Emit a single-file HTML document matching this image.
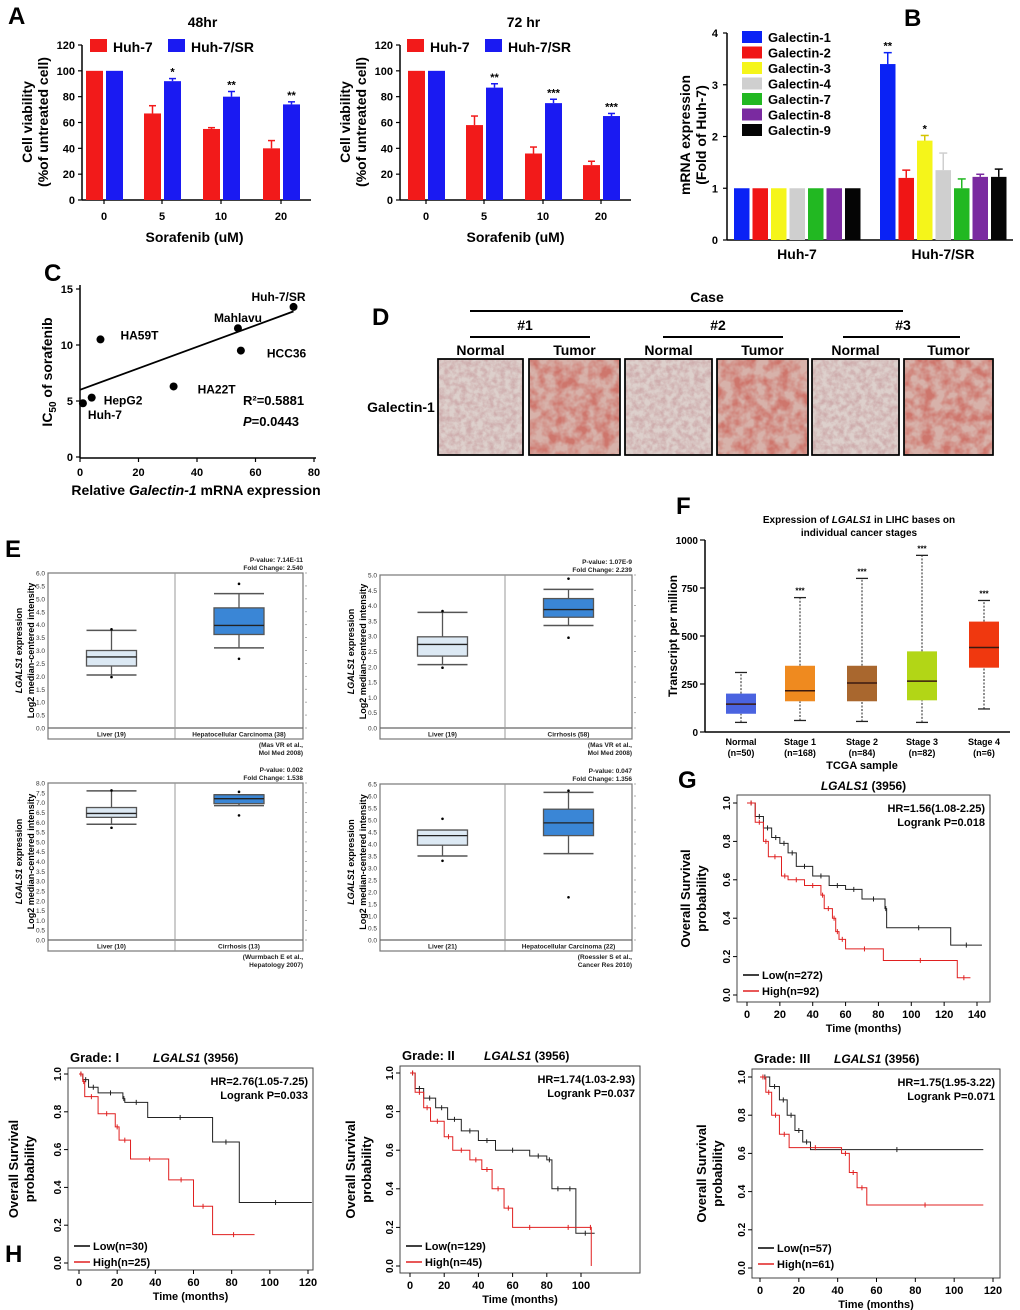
<!DOCTYPE html>
<html><head><meta charset="utf-8"><style>
html,body{margin:0;padding:0;background:#fff;}
svg{display:block;font-family:"Liberation Sans",Arial,sans-serif;}
</style></head><body>
<svg id="fig" xmlns="http://www.w3.org/2000/svg" width="1020" height="1310" viewBox="0 0 1020 1310">
<defs>
<filter id="tissueN" x="0" y="0" width="100%" height="100%"><feTurbulence type="fractalNoise" baseFrequency="0.18" numOctaves="3" seed="3"/><feColorMatrix type="matrix" values="0 0 0 0 0.62  0 0 0 0 0.42  0 0 0 0 0.42  0 0 0 -2.2 1.5"/></filter>
<filter id="tissueT" x="0" y="0" width="100%" height="100%"><feTurbulence type="fractalNoise" baseFrequency="0.09" numOctaves="3" seed="7"/><feColorMatrix type="matrix" values="0 0 0 0 0.62  0 0 0 0 0.18  0 0 0 0 0.15  0 0 0 -2.4 1.6"/></filter>
</defs>
</svg>
<script>
// ---------- DATA ----------
const aCats = ["0","5","10","20"];
const a48Huh7 = [100,67,55,40];
const a48SR = [100,92,80,74];
const a48Err1 = [0,6,1,6];
const a48Err2 = [0,2,4,2];
const a48Stars = ["","*","**","**"];
const a72Huh7 = [100,58,36,27];
const a72SR = [100,87,75,65];
const a72Err1 = [0,7,5,3];
const a72Err2 = [0,3,3,2];
const a72Stars = ["","**","***","***"];
const aTicks = [0,20,40,60,80,100,120];
const bGenes = ["Galectin-1","Galectin-2","Galectin-3","Galectin-4","Galectin-7","Galectin-8","Galectin-9"];
const bColors = ["#0a22f5","#f01515","#f5f51a","#cfcfcf","#22b822","#7a2aa0","#050505"];
const bHuh7 = [1,1,1,1,1,1,1];
const bSR = [3.4,1.2,1.92,1.35,1.0,1.22,1.22];
const bSRerr = [0.22,0.15,0.1,0.33,0.18,0.05,0.15];
const bStars = ["**","","*","","","",""];
const bTicks = [0,1,2,3,4];
const cNames = ["Huh-7","HepG2","HA59T","HA22T","Mahlavu","HCC36","Huh-7/SR"];
const cX = [1,4,7,32,54,55,73];
const cY = [4.8,5.3,10.5,6.3,11.5,9.5,13.4];
const cFit = [[0,6.0],[73,13.0]];
const cXTicks = [0,20,40,60,80];
const cYTicks = [0,5,10,15];
const e1Liver=[2.05,2.4,2.75,3.0,3.78], e1LiverOut=[1.97,3.82];
const e1HCC=[3.1,3.62,3.97,4.65,5.2], e1HCCOut=[2.68,5.58];
const e2Liver=[2.07,2.35,2.73,2.98,3.78], e2LiverOut=[1.97,3.82];
const e2Cir=[3.35,3.62,3.87,4.23,4.53], e2CirOut=[2.95,4.88];
const e3Liver=[5.9,6.25,6.45,6.75,7.6], e3LiverOut=[5.72,7.62];
const e3Cir=[6.85,6.95,7.2,7.4,7.4], e3CirOut=[6.35,7.55];
const e4Liver=[3.5,3.95,4.35,4.58,4.58], e4LiverOut=[3.3,5.05];
const e4HCC=[3.6,4.35,4.88,5.45,6.15], e4HCCOut=[1.78,6.22];
const fCats=["Normal","Stage 1","Stage 2","Stage 3","Stage 4"];
const fN=["(n=50)","(n=168)","(n=84)","(n=82)","(n=6)"];
const fLo=[50,60,55,50,120], fQ1=[95,160,160,165,335], fMed=[145,215,255,265,440], fQ3=[200,345,345,420,575], fHi=[310,700,800,920,685];
const fColors=["#4a63e0","#ef8a1f","#a9672e","#b2d616","#f0380f"];
const fStars=["","***","***","***","***"];
const fTicks=[0,250,500,750,1000];
const gLowT=[0,5,10,15,20,25,30,40,50,60,70,84,85,124,143];
const gLowS=[1,0.93,0.87,0.82,0.79,0.74,0.67,0.62,0.57,0.55,0.5,0.45,0.35,0.26,0.26];
const gHighT=[0,5,10,13,21,25,35,45,47,52,54,56,60,83,128,136];
const gHighS=[1,0.9,0.8,0.72,0.62,0.6,0.57,0.52,0.45,0.4,0.33,0.29,0.24,0.18,0.09,0.09];
const h1LowT=[0,2,5,10,23,24,36,70,84,122];
const h1LowS=[1,0.97,0.93,0.9,0.87,0.85,0.77,0.64,0.32,0.32];
const h1HighT=[0,2,3,10,19,21,27,47,60,70,92];
const h1HighS=[1,0.96,0.88,0.79,0.72,0.65,0.55,0.44,0.3,0.15,0.15];
const h2LowT=[0,3,8,15,22,30,40,50,70,80,83,90,97,108];
const h2LowS=[1,0.92,0.87,0.82,0.76,0.7,0.65,0.6,0.57,0.55,0.4,0.4,0.17,0.17];
const h2HighT=[0,3,8,12,20,25,35,42,48,55,60,80,105,106];
const h2HighS=[1,0.9,0.82,0.75,0.67,0.6,0.55,0.5,0.4,0.3,0.2,0.2,0.2,0.0];
const h3LowT=[0,5,10,14,18,22,26,115];
const h3LowS=[1,0.95,0.88,0.8,0.72,0.66,0.62,0.62];
const h3HighT=[0,3,6,10,15,42,46,50,55,115];
const h3HighS=[1,0.92,0.8,0.7,0.63,0.6,0.5,0.42,0.33,0.33];

// ---------- HELPERS ----------
const svg=document.getElementById('fig');
const NS='http://www.w3.org/2000/svg';
function named(el,name,inter){
  
  
  return el;
}
function mk(tag,attrs,parent){
  const e=document.createElementNS(NS,tag);
  for(const k in attrs){e.setAttribute(k,attrs[k]);}
  (parent||svg).appendChild(e);
  return e;
}
function grp(name){
  const g=mk('g',{});
  named(g,name);
  return g;
}
function txt(p,x,y,s,size,opt){
  opt=opt||{};
  const t=mk('text',{x:x,y:y,'font-size':size,'font-weight':opt.w||'bold','text-anchor':opt.a||'middle',fill:opt.c||'#000'},p);
  if(opt.r){t.setAttribute('transform','rotate(-90 '+x+' '+y+')');}
  if(opt.i){t.setAttribute('font-style','italic');}
  t.textContent=s;
  named(t,opt.n||'label');
  return t;
}
function line(p,x1,y1,x2,y2,c,w,name){
  const l=mk('line',{x1:x1,y1:y1,x2:x2,y2:y2,stroke:c||'#000','stroke-width':w||1},p);
  named(l,name||'line');
  return l;
}
function lin(d0,d1,r0,r1){return v=>r0+(v-d0)*(r1-r0)/(d1-d0);}

// ---------- PANEL LABELS ----------
const pl=grp('panel-labels');
[["A",8,24],["B",904,26],["C",44,281],["D",372,325],["E",5,557],["F",676,514],["G",678,788],["H",5,1262]].forEach(p=>txt(pl,p[1],p[2],p[0],24,{a:'start'}));

// ---------- PANEL A ----------
function barPanel(name,ax,cx,title,h1,h2,e1,e2,stars,legX){
  const g=grp(name);
  const y=lin(0,120,200,45);
  txt(g,cx[0]+ (cx[3]-cx[0])/2+10,27,title,14);
  line(g,ax,45,ax,200,'#000',1.5,'y-axis');
  line(g,ax,200,cx[3]+30,200,'#000',1.5,'x-axis');
  aTicks.forEach(t=>{line(g,ax-4,y(t),ax,y(t),'#000',1.2,'y-tick');txt(g,ax-7,y(t)+4,String(t),11,{a:'end'});});
  aCats.forEach((c,i)=>{
    const yv=y(h1[i]);
    const r=mk('rect',{x:cx[i]-18,y:yv,width:17,height:200-yv,fill:'#f21a1a'},g);
    named(r,'bar-huh7-'+c);
    if(e1[i]) line(g,cx[i]-9.5,yv,cx[i]-9.5,y(h1[i]+e1[i]),'#f21a1a',1.5,'error-bar');
    if(e1[i]) line(g,cx[i]-13,y(h1[i]+e1[i]),cx[i]-6,y(h1[i]+e1[i]),'#f21a1a',1.5,'error-cap');
    const yv2=y(h2[i]);
    const r2=mk('rect',{x:cx[i]+2,y:yv2,width:17,height:200-yv2,fill:'#1a1af2'},g);
    named(r2,'bar-huh7sr-'+c);
    if(e2[i]) line(g,cx[i]+10.5,yv2,cx[i]+10.5,y(h2[i]+e2[i]),'#1a1af2',1.5,'error-bar');
    if(e2[i]) line(g,cx[i]+7,y(h2[i]+e2[i]),cx[i]+14,y(h2[i]+e2[i]),'#1a1af2',1.5,'error-cap');
    if(stars[i]) txt(g,cx[i]+10.5,y(h2[i]+e2[i])-3,stars[i],11);
    line(g,cx[i],200,cx[i],204,'#000',1.2,'x-tick');
    txt(g,cx[i],220,c,11);
  });
  const l1=mk('rect',{x:legX,y:39,width:17,height:13,fill:'#f21a1a'},g); named(l1,'legend-swatch-huh7');
  txt(g,legX+23,52,'Huh-7',14,{a:'start'});
  const l2=mk('rect',{x:legX+78,y:39,width:17,height:13,fill:'#1a1af2'},g); named(l2,'legend-swatch-huh7sr');
  txt(g,legX+101,52,'Huh-7/SR',14,{a:'start'});
  txt(g,cx[0]+(cx[3]-cx[0])/2+2,242,'Sorafenib (uM)',14);
  txt(g,ax-50,122,'Cell viability',14,{r:1});
  txt(g,ax-34,122,'(%of untreated cell)',14,{r:1});
}
barPanel('panel-a-48hr',82,[104,162,221,281],'48hr',a48Huh7,a48SR,a48Err1,a48Err2,a48Stars,90);
barPanel('panel-a-72hr',400,[426,484,543,601],'72 hr',a72Huh7,a72SR,a72Err1,a72Err2,a72Stars,407);

// ---------- PANEL B ----------
(function(){
  const g=grp('panel-b');
  const y=lin(0,4,240,33);
  line(g,727,33,727,240,'#000',1.5,'y-axis');
  line(g,727,240,1013,240,'#000',1.5,'x-axis');
  bTicks.forEach(t=>{line(g,723,y(t),727,y(t),'#000',1.2,'y-tick');txt(g,718,y(t)+4,String(t),11,{a:'end'});});
  const bw=15.5;
  [[bHuh7,734,null,'huh7'],[bSR,880,bSRerr,'huh7sr']].forEach(gr=>{
    gr[0].forEach((v,i)=>{
      const x=gr[1]+i*(bw+3);
      const r=mk('rect',{x:x,y:y(v),width:bw,height:240-y(v),fill:bColors[i]},g);
      named(r,'bar-'+gr[3]+'-'+bGenes[i].toLowerCase());
      if(gr[2]){
        const c=bColors[i]==='#f5f51a'?'#d4c400':bColors[i];
        line(g,x+bw/2,y(v),x+bw/2,y(v+gr[2][i]),c,1.5,'error-bar');
        line(g,x+bw/2-4,y(v+gr[2][i]),x+bw/2+4,y(v+gr[2][i]),c,1.5,'error-cap');
        if(bStars[i]) txt(g,x+bw/2,y(v+gr[2][i])-3,bStars[i],11);
      }
    });
  });
  txt(g,797,259,'Huh-7',14);
  txt(g,943,259,'Huh-7/SR',14);
  txt(g,690,135,'mRNA expression',14,{r:1});
  txt(g,706,135,'(Fold of Huh-7)',14,{r:1});
  bGenes.forEach((n,i)=>{
    const r=mk('rect',{x:742,y:31+i*15.5,width:20,height:12,fill:bColors[i]},g);
    named(r,'legend-swatch-'+n.toLowerCase());
    txt(g,768,42+i*15.5,n,13,{a:'start'});
  });
})();

// ---------- PANEL C ----------
(function(){
  const g=grp('panel-c');
  const x=lin(0,80,80,314), y=lin(0,15,457,289);
  line(g,80,285,80,458,'#000',1.5,'y-axis');
  line(g,80,458,316,458,'#000',1.5,'x-axis');
  cYTicks.forEach(t=>{line(g,76,y(t),80,y(t),'#000',1.2,'y-tick');txt(g,73,y(t)+4,String(t),11,{a:'end'});});
  cXTicks.forEach(t=>{line(g,x(t),458,x(t),462,'#000',1.2,'x-tick');txt(g,x(t),476,String(t),11);});
  line(g,x(cFit[0][0]),y(cFit[0][1]),x(cFit[1][0]),y(cFit[1][1]),'#000',1.8,'regression-line');
  const off=[[0,13],[12,3],[20,-4],[24,3],[0,-10],[26,3],[0,-10]];
  const anc=['middle','start','start','start','middle','start','middle'];
  cNames.forEach((n,i)=>{
    const c=mk('circle',{cx:x(cX[i]),cy:y(cY[i]),r:4,fill:'#000'},g);
    named(c,'point-'+n.toLowerCase());
    let tx=x(cX[i])+off[i][0], ty=y(cY[i])+off[i][1]+4;
    if(n==='Huh-7'){tx=x(cX[i])+22;ty=y(cY[i])+16;}
    if(n==='Huh-7/SR'){tx=x(cX[i])-15;}
    txt(g,tx,ty,n,12,{a:anc[i]});
  });
  txt(g,243,405,'R\u00b2=0.5881',13,{a:'start'});
  const p=txt(g,243,426,'',13,{a:'start'});
  p.innerHTML='<tspan font-style="italic">P</tspan>=0.0443';
  const yl=txt(g,52,372,'',14,{r:1});
  yl.innerHTML='IC<tspan font-size="10" dy="4">50</tspan><tspan dy="-4"> of sorafenib</tspan>';
  const xl=txt(g,196,495,'',14);
  xl.innerHTML='Relative <tspan font-style="italic">Galectin-1</tspan> mRNA expression';
})();

// ---------- PANEL D ----------
(function(){
  const g=grp('panel-d');
  line(g,470,311,903,311,'#000',2,'case-bracket');
  txt(g,707,302,'Case',14);
  [['#1',470,590,525],['#2',663,783,718],['#3',843,960,903]].forEach(c=>{
    line(g,c[1],337,c[2],337,'#000',2,'case-line');
    txt(g,c[3],330,c[0],14);
  });
  const imgs=[[438,523,'Normal',0],[529,620,'Tumor',1],[625,712,'Normal',0],[717,808,'Tumor',1],[812,899,'Normal',0],[904,993,'Tumor',1]];
  imgs.forEach((m,i)=>{
    const bg=mk('rect',{x:m[0],y:359,width:m[1]-m[0],height:96,fill:m[3]?'#d7b2aa':'#ddd0cc',stroke:'#000','stroke-width':1.5},g);
    named(bg,'ihc-image-'+m[2].toLowerCase()+'-'+(Math.floor(i/2)+1));
    const n=mk('rect',{x:m[0]+1,y:360,width:m[1]-m[0]-2,height:94,filter:m[3]?'url(#tissueT)':'url(#tissueN)'},g);
    named(n,'ihc-texture');
    const b=mk('rect',{x:m[0],y:359,width:m[1]-m[0],height:96,fill:'none',stroke:'#000','stroke-width':1.5},g);
    named(b,'ihc-border');
    txt(g,(m[0]+m[1])/2,355,m[2],14);
  });
  txt(g,401,412,'Galectin-1',14);
})();

// ---------- PANEL E ----------
function boxPanel(name,x0,x1,xd,yTop,yZero,ymax,step,cats,boxes,outs,pv,fc,ref1,ref2){
  const g=grp(name);
  const y=lin(0,ymax,yZero,yTop);
  const fr=mk('rect',{x:x0,y:yTop,width:x1-x0,height:yZero+11-yTop,fill:'none',stroke:'#777','stroke-width':1.2},g);
  named(fr,'plot-frame');
  line(g,x0,yZero,x1,yZero,'#666',1.2,'zero-line');
  line(g,xd,yTop,xd,yZero+11,'#999',1,'divider');
  for(let v=0;v<=ymax+1e-9;v+=step){
    txt(g,x0-3,y(v)+2.5,v.toFixed(1),6.5,{a:'end',w:'normal',c:'#333'});
    line(g,x1+2,y(v),x1+4,y(v),'#999',0.8,'right-tick');
  }
  const cxs=[(x0+xd)/2,(xd+x1)/2];
  boxes.forEach((b,i)=>{
    const cx=cxs[i], hw=25;
    line(g,cx,y(b[0]),cx,y(b[1]),'#555',1.3,'whisker');
    line(g,cx,y(b[3]),cx,y(b[4]),'#555',1.3,'whisker');
    line(g,cx-hw,y(b[0]),cx+hw,y(b[0]),'#555',1.5,'whisker-cap');
    line(g,cx-hw,y(b[4]),cx+hw,y(b[4]),'#555',1.5,'whisker-cap');
    const r=mk('rect',{x:cx-hw,y:y(b[3]),width:2*hw,height:y(b[1])-y(b[3]),fill:i?'#3a86d6':'#dce9f4',stroke:'#555','stroke-width':1.3},g);
    named(r,'box-'+cats[i].split(' ')[0].toLowerCase());
    line(g,cx-hw,y(b[2]),cx+hw,y(b[2]),'#222',1.3,'median');
    outs[i].forEach(o=>{const c=mk('circle',{cx:cx,cy:y(o),r:1.3,fill:'#000'},g);named(c,'outlier');});
    txt(g,cx,yZero+8.5,cats[i],6.5,{c:'#222'});
  });
  txt(g,x1,yTop-11,'P-value: '+pv,6.5,{a:'end',c:'#222'});
  txt(g,x1,yTop-3,'Fold Change: '+fc,6.5,{a:'end',c:'#222'});
  txt(g,x1,yZero+19,ref1,6.5,{a:'end',c:'#222'});
  txt(g,x1,yZero+27,ref2,6.5,{a:'end',c:'#222'});
  const t1=txt(g,x0-26,(yTop+yZero)/2,'',9,{r:1});
  t1.innerHTML='<tspan font-style="italic">LGALS1</tspan> expression';
  txt(g,x0-14,(yTop+yZero)/2,'Log2 median-centered intensity',9,{r:1});
}
boxPanel('panel-e-mas-hcc',48,303,175,573,728,6,0.5,['Liver (19)','Hepatocellular Carcinoma (38)'],[e1Liver,e1HCC],[e1LiverOut,e1HCCOut],'7.14E-11','2.540','(Mas VR et al.,','Mol Med 2008)');
boxPanel('panel-e-mas-cirrhosis',380,632,505,575,728,5,0.5,['Liver (19)','Cirrhosis (58)'],[e2Liver,e2Cir],[e2LiverOut,e2CirOut],'1.07E-9','2.239','(Mas VR et al.,','Mol Med 2008)');
boxPanel('panel-e-wurmbach',48,303,175,783,940,8,0.5,['Liver (10)','Cirrhosis (13)'],[e3Liver,e3Cir],[e3LiverOut,e3CirOut],'0.002','1.538','(Wurmbach E et al.,','Hepatology 2007)');
boxPanel('panel-e-roessler',380,632,505,784,940,6.5,0.5,['Liver (21)','Hepatocellular Carcinoma (22)'],[e4Liver,e4HCC],[e4LiverOut,e4HCCOut],'0.047','1.356','(Roessler S et al.,','Cancer Res 2010)');

// ---------- PANEL F ----------
(function(){
  const g=grp('panel-f');
  const y=lin(0,1000,732,540);
  const cxs=[741,800,862,922,984];
  line(g,705,540,705,732,'#000',1.5,'y-axis');
  line(g,705,732,1010,732,'#000',1.5,'x-axis');
  fTicks.forEach(t=>{line(g,700,y(t),705,y(t),'#000',1.2,'y-tick');txt(g,698,y(t)+4,String(t),10,{a:'end'});});
  fCats.forEach((c,i)=>{
    const cx=cxs[i];
    const w1=line(g,cx,y(fLo[i]),cx,y(fQ1[i]),'#222',1,'whisker'); w1.setAttribute('stroke-dasharray','2,1.5');
    const w2=line(g,cx,y(fQ3[i]),cx,y(fHi[i]),'#222',1,'whisker'); w2.setAttribute('stroke-dasharray','2,1.5');
    line(g,cx-6,y(fLo[i]),cx+6,y(fLo[i]),'#222',1.3,'whisker-cap');
    line(g,cx-6,y(fHi[i]),cx+6,y(fHi[i]),'#222',1.3,'whisker-cap');
    const r=mk('rect',{x:cx-15,y:y(fQ3[i]),width:30,height:y(fQ1[i])-y(fQ3[i]),fill:fColors[i]},g);
    named(r,'box-'+c.toLowerCase().replace(' ','-'));
    line(g,cx-15,y(fMed[i]),cx+15,y(fMed[i]),'#3a1a10',1.5,'median');
    if(fStars[i]) txt(g,cx,y(fHi[i])-4,fStars[i],8);
    txt(g,cx,745,c,9);
    txt(g,cx,756,fN[i],9);
  });
  txt(g,862,769,'TCGA sample',11);
  const t=txt(g,859,523,'',10);
  t.innerHTML='Expression of <tspan font-style="italic">LGALS1</tspan> in LIHC bases on';
  txt(g,859,536,'individual cancer stages',10);
  txt(g,677,636,'Transcript per million',12,{r:1});
})();

// ---------- KM PANELS ----------
function km(name,fx0,fx1,fy0,fy1,x0,xmaxV,x1,yTop,yBot,xTicks,curves,hr,lp,title,grade,legY,ylabX){
  const g=grp(name);
  const x=lin(0,xmaxV,x0,x1), y=lin(0,1,yBot,yTop);
  const fr=mk('rect',{x:fx0,y:fy0,width:fx1-fx0,height:fy1-fy0,fill:'none',stroke:'#444','stroke-width':1},g);
  named(fr,'plot-frame');
  [0,0.2,0.4,0.6,0.8,1.0].forEach(v=>{
    line(g,fx0-4,y(v),fx0,y(v),'#000',1,'y-tick');
    txt(g,fx0-7,y(v),v.toFixed(1),10,{r:1});
  });
  xTicks.forEach(v=>{line(g,x(v),fy1,x(v),fy1+4,'#000',1,'x-tick');txt(g,x(v),fy1+16,String(v),11);});
  txt(g,(fx0+fx1)/2,fy1+30,'Time (months)',11);
  txt(g,ylabX,(fy0+fy1)/2,'Overall Survival',13,{r:1});
  txt(g,ylabX+16,(fy0+fy1)/2,'probability',13,{r:1});
  curves.forEach(cv=>{
    const T=cv[0],S=cv[1];
    let d='M'+x(T[0])+','+y(S[0]);
    for(let i=1;i<T.length;i++){d+=' H'+x(T[i])+' V'+y(S[i]);}
    const p=mk('path',{d:d,fill:'none',stroke:cv[2],'stroke-width':1},g);
    named(p,cv[3]);
    for(let i=1;i<T.length;i++){
      const cxp=(x(T[i-1])+x(T[i]))/2, cyp=y(S[i-1]);
      line(g,cxp,cyp-2.5,cxp,cyp+2.5,cv[2],1,'censor-mark');
    }
  });
  txt(g,fx1-5,fy0+17,hr,11,{a:'end'});
  txt(g,fx1-5,fy0+31,lp,11,{a:'end'});
  line(g,fx0+6,legY,fx0+22,legY,'#000',1.5,'legend-line-low');
  txt(g,fx0+25,legY+4,'Low(n='+curves[0][4]+')',11,{a:'start'});
  line(g,fx0+6,legY+16,fx0+22,legY+16,'#e02020',1.5,'legend-line-high');
  txt(g,fx0+25,legY+20,'High(n='+curves[1][4]+')',11,{a:'start'});
  if(grade){
    txt(g,fx0+2,fy0-6,grade,13,{a:'start'});
    const tt=txt(g,title[0],fy0-6,'',12,{a:'start'});
    tt.innerHTML='<tspan font-style="italic">LGALS1</tspan> (3956)';
  } else {
    const tt=txt(g,(fx0+fx1)/2,fy0-5,'',12);
    tt.innerHTML='<tspan font-style="italic">LGALS1</tspan> (3956)';
  }
}
km('panel-g',737,990,795,1002,747,140,977,803,995,[0,20,40,60,80,100,120,140],
  [[gLowT,gLowS,'#222','curve-low',272],[gHighT,gHighS,'#e02020','curve-high',92]],
  'HR=1.56(1.08-2.25)','Logrank P=0.018',null,null,975,690);
km('panel-h-grade1',68,313,1068,1270,79,120,308,1074,1263,[0,20,40,60,80,100,120],
  [[h1LowT,h1LowS,'#222','curve-low',30],[h1HighT,h1HighS,'#e02020','curve-high',25]],
  'HR=2.76(1.05-7.25)','Logrank P=0.033',[153],'Grade: I',1246,18);
km('panel-h-grade2',400,640,1066,1273,410,100,581,1073,1266,[0,20,40,60,80,100],
  [[h2LowT,h2LowS,'#222','curve-low',129],[h2HighT,h2HighS,'#e02020','curve-high',45]],
  'HR=1.74(1.03-2.93)','Logrank P=0.037',[484],'Grade: II',1246,355);
km('panel-h-grade3',752,1000,1069,1278,760,120,993,1077,1268,[0,20,40,60,80,100,120],
  [[h3LowT,h3LowS,'#222','curve-low',57],[h3HighT,h3HighS,'#e02020','curve-high',61]],
  'HR=1.75(1.95-3.22)','Logrank P=0.071',[834],'Grade: III',1248,706);
</script>
</body></html>
